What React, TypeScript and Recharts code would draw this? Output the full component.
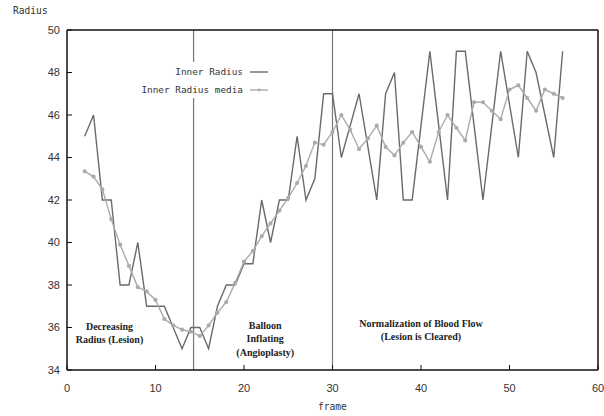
import { LineChart, Line, XAxis, YAxis, ReferenceLine, ReferenceDot, Legend } from "recharts";

const frames = [2, 3, 4, 5, 6, 7, 8, 9, 10, 11, 12, 13, 14, 15, 16, 17, 18, 19, 20, 21, 22, 23, 24, 25, 26, 27, 28, 29, 30, 31, 32, 33, 34, 35, 36, 37, 38, 39, 40, 41, 42, 43, 44, 45, 46, 47, 48, 49, 50, 51, 52, 53, 54, 55, 56];

const innerRadius = [45, 46, 42, 42, 38, 38, 40, 37, 37, 37, 36, 35, 36, 36, 35, 37, 38, 38, 39, 39, 42, 40, 42, 42, 45, 42, 43, 47, 47, 44, 45.5, 47, 44.5, 42, 47, 48, 42, 42, 45.5, 49, 45.5, 42, 49, 49, 45.5, 42, 45.5, 49, 46.5, 44, 49, 48, 46, 44, 49];

const innerRadiusMedia = [43.35, 43.1, 42.5, 41.1, 39.9, 38.9, 37.9, 37.7, 37.3, 36.4, 36.1, 35.9, 35.8, 35.6, 36.1, 36.7, 37.2, 38.1, 39.1, 39.6, 40.3, 40.9, 41.5, 42.1, 42.8, 43.6, 44.7, 44.6, 45.2, 46.0, 45.3, 44.4, 44.9, 45.5, 44.5, 44.1, 44.7, 45.2, 44.5, 43.8, 45.2, 46.0, 45.4, 44.8, 46.6, 46.6, 46.2, 45.8, 47.2, 47.4, 46.8, 46.2, 47.2, 47.0, 46.8];

const xTicks = [0, 10, 20, 30, 40, 50, 60];
const yTicks = [34, 36, 38, 40, 42, 44, 46, 48, 50];
const phaseBounds = [14.3, 30];

const noteFrames = [4.8, 22.4, 40];
const noteRadius = [36.05, 36.1, 36.2];
const noteLines = [
  ["Decreasing", "Radius (Lesion)"],
  ["Balloon", "Inflating", "(Angioplasty)"],
  ["Normalization of Blood Flow", "(Lesion is Cleared)"],
];

const data = frames.map((f, i) => ({ frame: f, inner: innerRadius[i], media: innerRadiusMedia[i] }));

const DARK = "#6a6a6a";
const LIGHT = "#ababab";
const MONO = "'DejaVu Sans Mono', monospace";

function NoteLabel({ viewBox, lines }: { viewBox?: { x: number; y: number }; lines: string[] }) {
  if (!viewBox) return null;
  return (
    <text x={viewBox.x} y={viewBox.y} textAnchor="middle" fontFamily="'Liberation Serif', serif" fontWeight="bold" fontSize={10} fill="#222">
      {lines.map((l, i) => (
        <tspan key={l} x={viewBox.x} dy={i === 0 ? 3.5 : 13.5}>{l}</tspan>
      ))}
    </text>
  );
}

function KeyBox() {
  return (
    <div style={{ background: "#fff", width: 132, height: 36 }}>
      <svg width={132} height={36}>
        <text x={103} y={13} textAnchor="end" fontFamily={MONO} fontSize={9.4} fill="#333">Inner Radius</text>
        <line x1={110} x2={128} y1={10} y2={10} stroke={DARK} strokeWidth={1.4} />
        <text x={103} y={31} textAnchor="end" fontFamily={MONO} fontSize={9.4} fill="#333">Inner Radius media</text>
        <line x1={110} x2={128} y1={28} y2={28} stroke={LIGHT} strokeWidth={1.4} />
        <circle cx={119} cy={28} r={1.4} fill={LIGHT} />
      </svg>
    </div>
  );
}

export default function App() {
  const tickFont = { fill: "#333", fontSize: 11, fontFamily: "'Liberation Sans', Arial, sans-serif" };
  const axisLine = { stroke: "#111", strokeWidth: 1.5 };
  const tickLine = { stroke: "#111" };
  return (
    <div style={{ position: "absolute", left: 0, top: 0, width: 604, height: 416, background: "#fff" }}>
      <LineChart width={604} height={416} data={data} margin={{ top: 29, right: 5, bottom: 45, left: 66 }}>
        <XAxis dataKey="frame" type="number" domain={[0, 60]} ticks={xTicks} height={1} tickSize={-5} tickMargin={19}
          tick={tickFont} axisLine={axisLine} tickLine={tickLine} />
        <XAxis xAxisId="top" orientation="top" dataKey="frame" type="number" domain={[0, 60]} ticks={xTicks} height={1}
          tickSize={-5} tick={false} axisLine={axisLine} tickLine={tickLine} />
        <YAxis type="number" domain={[34, 50]} ticks={yTicks} width={1} tickSize={-5} tickMargin={12}
          tick={tickFont} axisLine={axisLine} tickLine={tickLine} />
        <YAxis yAxisId="right" orientation="right" type="number" domain={[34, 50]} ticks={yTicks} width={1}
          tickSize={-5} tick={false} axisLine={axisLine} tickLine={tickLine} />
        {phaseBounds.map((b) => (
          <ReferenceLine key={b} x={b} stroke="#777" strokeWidth={1.2} />
        ))}
        <Line dataKey="inner" stroke={DARK} strokeWidth={1.4} dot={false} isAnimationActive={false} />
        <Line dataKey="media" stroke={LIGHT} strokeWidth={1.4} dot={{ r: 1.4, fill: LIGHT, stroke: LIGHT }} isAnimationActive={false} />
        {noteFrames.map((f, i) => (
          <ReferenceDot key={f} x={f} y={noteRadius[i]} r={0} stroke="none"
            label={(p: any) => <NoteLabel viewBox={p.viewBox} lines={noteLines[i]} />} />
        ))}
        <Legend layout="vertical" align="center" verticalAlign="middle" content={() => <KeyBox />}
          wrapperStyle={{ position: "absolute", left: 140, top: 62, width: 132, height: 36 }} />
      </LineChart>
      <div style={{ position: "absolute", left: 13, top: 5, fontFamily: MONO, fontSize: 9.6, color: "#333" }}>Radius</div>
      <div style={{ position: "absolute", left: 318, top: 401, fontFamily: MONO, fontSize: 9.6, color: "#333" }}>frame</div>
    </div>
  );
}
